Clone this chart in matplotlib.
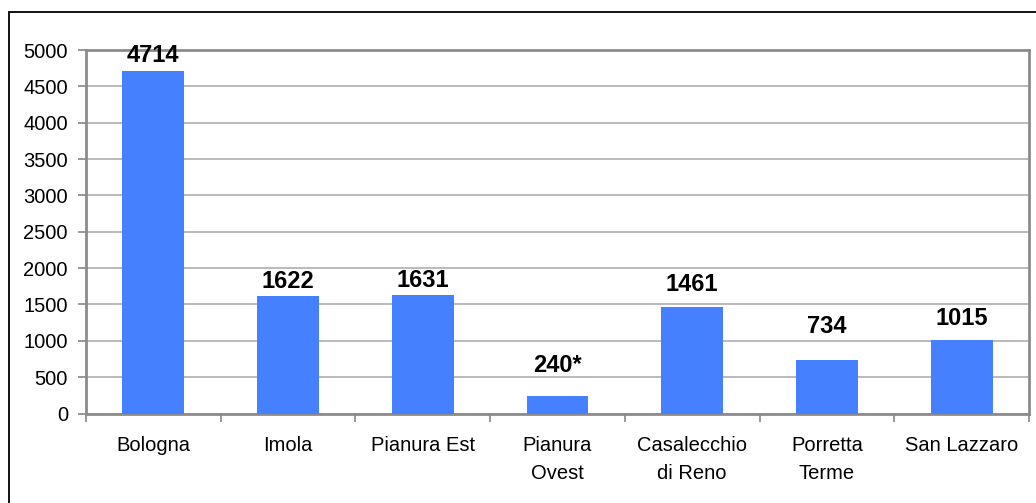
import matplotlib.pyplot as plt
from matplotlib.patches import Rectangle

# data
categories = ['Bologna', 'Imola', 'Pianura Est', 'Pianura\nOvest',
              'Casalecchio\ndi Reno', 'Porretta\nTerme', 'San Lazzaro']
values = [4714, 1622, 1631, 240, 1461, 734, 1015]
labels = ['4714', '1622', '1631', '240*', '1461', '734', '1015']
# gap between bar top and its label (points)
label_gap = [2.5, 2, 2, 14, 8, 16, 7]

plt.rcParams['font.family'] = ['Liberation Sans', 'DejaVu Sans']

fig = plt.figure(figsize=(10.36, 5.03), dpi=100)
ax = fig.add_axes([86 / 1036, 89.5 / 503, 943 / 1036, 363.5 / 503])

# outer chart frame (only top and left fall inside the picture)
fig.patches.append(Rectangle((8.5 / 1036, -0.1), 1.2, (503 - 12) / 503 + 0.1,
                             transform=fig.transFigure, fill=False,
                             edgecolor='black', linewidth=1.3))

x = range(len(categories))
ax.bar(x, values, width=0.46, color='#4480ff', zorder=3)

for i, v in enumerate(values):
    ax.annotate(labels[i], (i, v), xytext=(0, label_gap[i]),
                textcoords='offset points', ha='center', va='bottom',
                fontsize=17, fontweight='bold', zorder=4)

ax.set_xlim(-0.5, len(categories) - 0.5)
ax.set_ylim(0, 5000)
ax.set_yticks(range(0, 5001, 500))
ax.yaxis.grid(True, color='#b4b4b4', linewidth=1.3, zorder=0)

ax.set_xticks(list(x))
ax.set_xticklabels(categories, fontsize=14.5, linespacing=1.6)
ax.set_xticks([i - 0.5 for i in range(len(categories) + 1)], minor=True)
ax.tick_params(axis='x', which='major', length=0, pad=16)
ax.tick_params(axis='x', which='minor', length=6, color='#909090', width=1.3)
ax.tick_params(axis='y', labelsize=14.5, length=6, color='#909090', width=1.3, pad=7)

for s in ax.spines.values():
    s.set_color('#8c8c8c')
    s.set_linewidth(2)

fig.savefig('out.png', dpi=100)
